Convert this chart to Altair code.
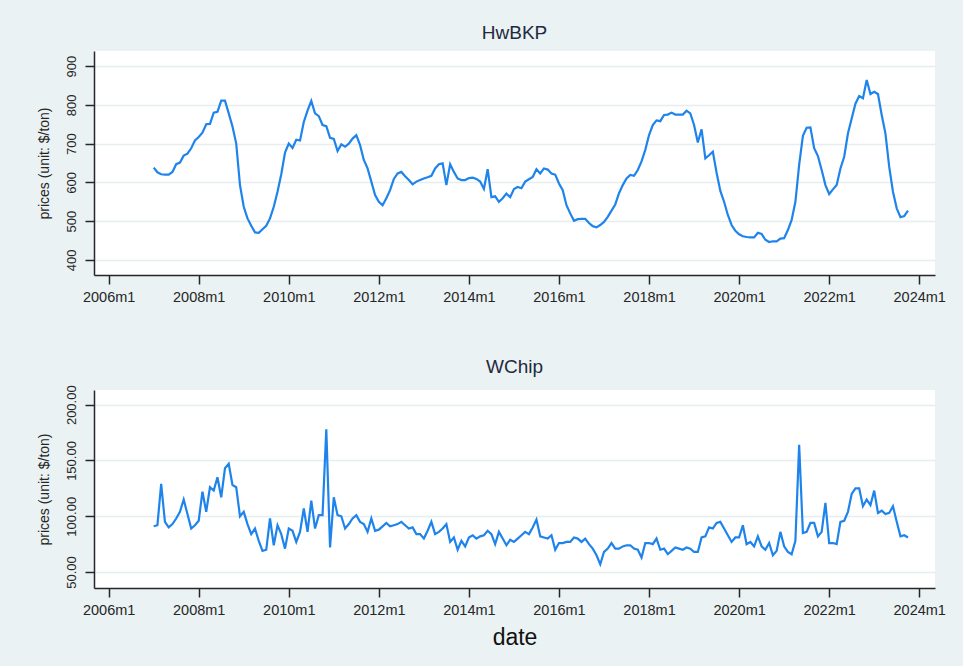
import altair as alt
import pandas as pd

# Monthly observations, 2007m1 .. 2023m10
months = pd.period_range("2007-01", periods=202, freq="M")

# Hardwood bleached kraft pulp, $/ton
hwbkp = [
    638, 626, 621, 620, 620, 627, 647, 651, 669, 674,
    688, 708, 717, 728, 750, 751, 780, 782, 811, 811,
    778, 744, 700, 593, 537, 507, 488, 471, 470, 479,
    488, 507, 537, 576, 621, 677, 700, 689, 710, 708,
    756, 785, 810, 778, 771, 748, 745, 715, 712, 681,
    698, 692, 700, 713, 722, 696, 658, 636, 602, 567,
    550, 541, 559, 580, 609, 623, 627, 616, 606, 595,
    602, 606, 610, 613, 617, 636, 647, 649, 593, 647,
    627, 610, 606, 606, 611, 612, 609, 602, 583, 634,
    562, 564, 550, 559, 571, 562, 583, 588, 585, 602,
    608, 614, 634, 623, 636, 633, 623, 620, 597, 580,
    541, 520, 501, 505, 506, 506, 495, 487, 484, 490,
    498, 511, 527, 543, 572, 593, 610, 619, 617, 632,
    654, 684, 722, 748, 760, 758, 774, 775, 780, 775,
    775, 775, 785, 778, 748, 703, 737, 662, 670, 679,
    625, 578, 550, 516, 490, 475, 466, 461, 459, 458,
    458, 470, 467, 452, 446, 448, 448, 455, 456, 477,
    503, 550, 645, 720, 741, 742, 688, 668, 632, 593,
    570, 582, 593, 636, 666, 726, 765, 803, 823, 817,
    864, 828, 834, 828, 774, 726, 640, 576, 533, 510,
    513, 527,
]

# Wood chips, $/ton
wchip = [
    91, 92, 129, 95, 90, 93, 98, 104, 115, 102,
    89, 92, 96, 122, 104, 126, 123, 135, 117, 143,
    147, 128, 126, 100, 104, 93, 84, 89, 78, 69,
    70, 98, 74, 92, 84, 71, 89, 87, 77, 86,
    107, 86, 114, 89, 101, 101, 178, 72, 117, 101,
    100, 89, 93, 98, 101, 95, 93, 86, 98, 87,
    88, 91, 94, 91, 92, 93, 95, 92, 89, 90,
    84, 84, 80, 87, 95, 84, 86, 89, 93, 77,
    81, 70, 78, 73, 81, 83, 80, 82, 83, 87,
    84, 75, 86, 80, 74, 79, 77, 80, 83, 86,
    84, 90, 97, 82, 81, 80, 83, 70, 76, 76,
    77, 77, 81, 80, 77, 80, 75, 71, 65, 57,
    68, 71, 76, 71, 71, 73, 74, 74, 71, 70,
    63, 76, 76, 75, 80, 70, 71, 66, 69, 72,
    71, 70, 72, 71, 68, 68, 81, 82, 90, 89,
    94, 95, 89, 83, 77, 81, 81, 92, 75, 77,
    73, 82, 73, 70, 76, 65, 69, 86, 73, 68,
    66, 78, 164, 85, 86, 94, 94, 82, 86, 112,
    76, 76, 75, 95, 96, 104, 120, 125, 125, 109,
    115, 110, 123, 103, 105, 102, 103, 109, 95, 82,
    83, 81,
]

# Stata %tm index: months elapsed since 1960m1
tm = [(p.year - 1960) * 12 + p.month - 1 for p in months]
df = pd.DataFrame({"tm": tm, "HwBKP": hwbkp, "WChip": wchip})

X_TICKS = list(range(552, 769, 24))  # 2006m1 .. 2024m1, every two years
TM_LABEL = "floor(datum.value / 12) + 1960 + 'm' + (datum.value % 12 + 1)"

FONT = "Liberation Sans"
BG = "#eaf2f3"
LINE = "#1e84ec"
INK = "#262626"
GRID = "#e6eef0"


def panel(field, ydomain, yticks, yformat, height, xtitle):
    xaxis_kw = dict(
        values=X_TICKS, labelExpr=TM_LABEL, grid=False,
        tickSize=9, tickWidth=1.5, tickColor=INK,
        domainColor=INK, domainWidth=1.5,
        labelFont=FONT, labelFontSize=14.5, labelColor=INK, labelPadding=6,
    )
    if xtitle:
        xaxis_kw.update(title=xtitle, titleFont=FONT, titleFontSize=23,
                        titleFontWeight="normal", titleColor="#111111",
                        titlePadding=10)
    else:
        xaxis_kw.update(title=None)

    return (
        alt.Chart(df)
        .mark_line(color=LINE, strokeWidth=2.2)
        .encode(
            x=alt.X("tm:Q",
                    scale=alt.Scale(domain=[548.1, 772.2], nice=False, zero=False),
                    axis=alt.Axis(**xaxis_kw)),
            y=alt.Y(f"{field}:Q",
                    scale=alt.Scale(domain=ydomain, nice=False, zero=False),
                    axis=alt.Axis(
                        values=yticks, format=yformat,
                        title="prices (unit: $/ton)", titleFont=FONT,
                        titleFontSize=14, titleFontWeight="normal",
                        titleColor=INK, titlePadding=14,
                        labelAngle=270, labelAlign="center",
                        labelBaseline="bottom", labelFont=FONT,
                        labelFontSize=13, labelColor=INK, labelPadding=7,
                        tickSize=9, tickWidth=1.5, tickColor=INK,
                        domainColor=INK, domainWidth=1.5,
                        grid=True, gridColor=GRID, gridWidth=1.5,
                    )),
        )
        .properties(
            width=841, height=height,
            title=alt.TitleParams(field, font=FONT, fontSize=19,
                                  fontWeight="normal", color="#1f2a40",
                                  anchor="middle", offset=8),
        )
    )


top = panel("HwBKP", [361, 939], [400, 500, 600, 700, 800, 900], "d", 224, None)
bottom = panel("WChip", [35.7, 213.2], [50, 100, 150, 200], ".2f", 198, "date")

chart = (
    alt.vconcat(top, bottom, spacing=53)
    .configure(background=BG, padding={"left": 36, "top": 24, "right": 17, "bottom": 16})
    .configure_view(fill="white", strokeWidth=0)
)

chart.save("out.html", embed_options={"renderer": "svg", "actions": False})
